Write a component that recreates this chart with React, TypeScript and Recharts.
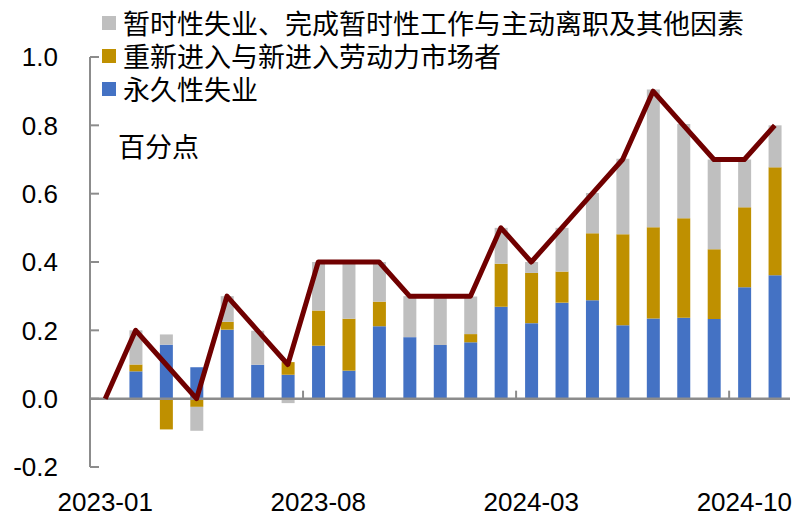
import { ComposedChart, Bar, Line, XAxis, YAxis, ReferenceLine, Legend } from 'recharts'

const months = [
  '2023-01', '2023-02', '2023-03', '2023-04', '2023-05', '2023-06', '2023-07', '2023-08',
  '2023-09', '2023-10', '2023-11', '2023-12', '2024-01', '2024-02', '2024-03', '2024-04',
  '2024-05', '2024-06', '2024-07', '2024-08', '2024-09', '2024-10', '2024-11',
]
// 永久性失业
const permanent = [null, 0.08, 0.158, 0.092, 0.202, 0.099, 0.07, 0.155, 0.082, 0.212, 0.18, 0.157, 0.165, 0.269, 0.221, 0.281, 0.288, 0.215, 0.235, 0.237, 0.233, 0.326, 0.361]
// 重新进入与新进入劳动力市场者
const entrants = [null, 0.02, -0.09, -0.024, 0.023, 0, 0.037, 0.103, 0.152, 0.072, 0, 0, 0.024, 0.126, 0.147, 0.091, 0.196, 0.266, 0.267, 0.291, 0.204, 0.234, 0.316]
// 暂时性失业、完成暂时性工作与主动离职及其他因素
const temporary = [null, 0.1, 0.03, -0.07, 0.075, 0.1, -0.013, 0.142, 0.166, 0.116, 0.12, 0.143, 0.11, 0.105, 0.032, 0.128, 0.118, 0.221, 0.403, 0.276, 0.263, 0.14, 0.123]
// 合计
const total = [0, 0.2, 0.1, 0, 0.3, 0.2, 0.1, 0.4, 0.4, 0.4, 0.3, 0.3, 0.3, 0.5, 0.4, 0.5, 0.6, 0.7, 0.9, 0.8, 0.7, 0.7, 0.8]
const yTicks = [-0.2, 0, 0.2, 0.4, 0.6, 0.8, 1.0]

const data = months.map((m, i) => ({
  month: m,
  permanent: permanent[i],
  entrants: entrants[i],
  temporary: temporary[i],
  total: total[i],
}))

const W = 806
const H = 527
const TOP = 57
const LEFT = 90
const RIGHT = 16
const BOTTOM = 20
const XH = 40
const PLOT_H = H - TOP - BOTTOM - XH
const PLOT_W = W - LEFT - RIGHT
const BAND = PLOT_W / months.length
const ZERO_Y = TOP + PLOT_H * (1.0 / 1.2)

const AXIS = '#8c8c8c'
const NUM_FONT = '"Liberation Sans", Arial, sans-serif'
const CJK_FONT = '"Noto Sans CJK SC", "Noto Sans", sans-serif'

const legendItems = [
  { label: '暂时性失业、完成暂时性工作与主动离职及其他因素', color: '#bfbfbf' },
  { label: '重新进入与新进入劳动力市场者', color: '#bf9000' },
  { label: '永久性失业', color: '#4472c4' },
]

function YTick({ x, y, payload }: any) {
  return (
    <g>
      <line x1={x} x2={x + 9} y1={y} y2={y} stroke={AXIS} strokeWidth={2} />
      <text x={x - 32} y={y} dy="0.36em" textAnchor="end" fontSize={26} fontFamily={NUM_FONT} fill="#000">
        {Number(payload.value).toFixed(1)}
      </text>
    </g>
  )
}

function XTick({ x, y, payload, index }: any) {
  return (
    <g>
      {index > 0 && (
        <line x1={x - BAND / 2} x2={x - BAND / 2} y1={ZERO_Y - 8} y2={ZERO_Y} stroke={AXIS} strokeWidth={2} />
      )}
      <text x={x} y={y + 44} textAnchor="middle" fontSize={26} fontFamily={NUM_FONT} fill="#000">
        {payload.value}
      </text>
    </g>
  )
}

function LegendBox() {
  return (
    <div style={{ fontFamily: CJK_FONT, fontSize: 27, color: '#000' }}>
      {legendItems.map((it) => (
        <div
          key={it.label}
          style={{ display: 'flex', alignItems: 'center', whiteSpace: 'nowrap', height: 33, lineHeight: '33px', overflow: 'visible' }}
        >
          <span style={{ width: 14, height: 14, background: it.color, marginRight: 7, display: 'inline-block', flex: 'none' }} />
          <span style={{ lineHeight: '27px' }}>{it.label}</span>
        </div>
      ))}
      <div style={{ marginTop: 24, marginLeft: 16, lineHeight: '33px' }}>百分点</div>
    </div>
  )
}

export default function App() {
  return (
    <div style={{ position: 'absolute', left: 0, top: 0, width: W, height: H, background: '#fff' }}>
      <ComposedChart
        width={W}
        height={H}
        data={data}
        stackOffset="sign"
        barCategoryGap={0}
        margin={{ top: TOP, right: RIGHT, bottom: BOTTOM, left: 0 }}
      >
        <XAxis
          dataKey="month"
          interval={6}
          height={XH}
          axisLine={false}
          tickLine={false}
          tickSize={0}
          tickMargin={0}
          tick={<XTick />}
        />
        <YAxis
          domain={[-0.2, 1.0]}
          ticks={yTicks}
          width={LEFT}
          axisLine={{ stroke: AXIS, strokeWidth: 2 }}
          tickLine={false}
          tickSize={0}
          tickMargin={0}
          tick={<YTick />}
          allowDataOverflow
        />
        <Legend
          layout="vertical"
          align="center"
          verticalAlign="middle"
          wrapperStyle={{ left: 102, top: 6, width: 700 }}
          content={<LegendBox />}
        />
        <Bar dataKey="permanent" stackId="a" fill="#4472c4" barSize={13} isAnimationActive={false} />
        <Bar dataKey="entrants" stackId="a" fill="#bf9000" barSize={13} isAnimationActive={false} />
        <Bar dataKey="temporary" stackId="a" fill="#bfbfbf" barSize={13} isAnimationActive={false} />
        <ReferenceLine y={0} stroke={AXIS} strokeWidth={2.5} />
        <Line
          dataKey="total"
          type="linear"
          stroke="#700000"
          strokeWidth={5}
          strokeLinejoin="round"
          dot={false}
          activeDot={false}
          isAnimationActive={false}
        />
      </ComposedChart>
    </div>
  )
}
